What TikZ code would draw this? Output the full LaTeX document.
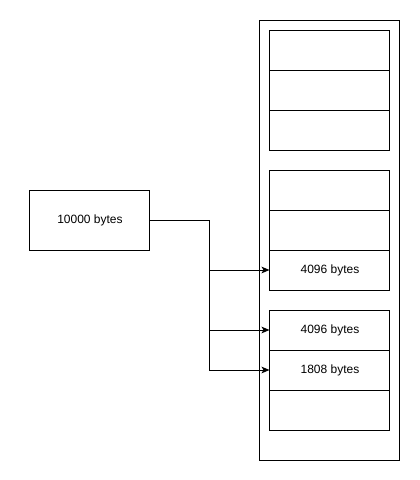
\documentclass[tikz,border=0pt]{standalone}
\usepackage{fontspec}
\setmainfont{Liberation Sans}
\usetikzlibrary{arrows.meta}
\begin{document}
\begin{tikzpicture}[x=0.75pt,y=-0.75pt,line width=0.75pt,
  cell/.style={draw,minimum width=90pt,minimum height=30pt,inner sep=0pt,font=\fontsize{9pt}{11pt}\selectfont},
  conn/.style={-{Stealth[length=6pt,width=5pt,inset=1.5pt]}}]
\useasboundingbox (0,0) rectangle (420,480);
\node[draw,minimum width=105pt,minimum height=330pt,inner sep=0pt] (outer) at (330,240) {};
\node[cell] (a1) at (330,50) {};
\node[cell] (a2) at (330,90) {};
\node[cell] (a3) at (330,130) {};
\node[cell] (b1) at (330,190) {};
\node[cell] (b2) at (330,230) {};
\node[cell] (b3) at (330,270) {4096 bytes};
\node[cell] (c1) at (330,330) {4096 bytes};
\node[cell] (c2) at (330,370) {1808 bytes};
\node[cell] (c3) at (330,410) {};
\node[cell,minimum height=45pt] (src) at (90,220) {10000 bytes};
\coordinate (j) at (210,220);
\draw[conn] (src.east) -- (j) |- (b3.west);
\draw[conn] (j) |- (c1.west);
\draw[conn] (j) |- (c2.west);
\end{tikzpicture}
\end{document}
